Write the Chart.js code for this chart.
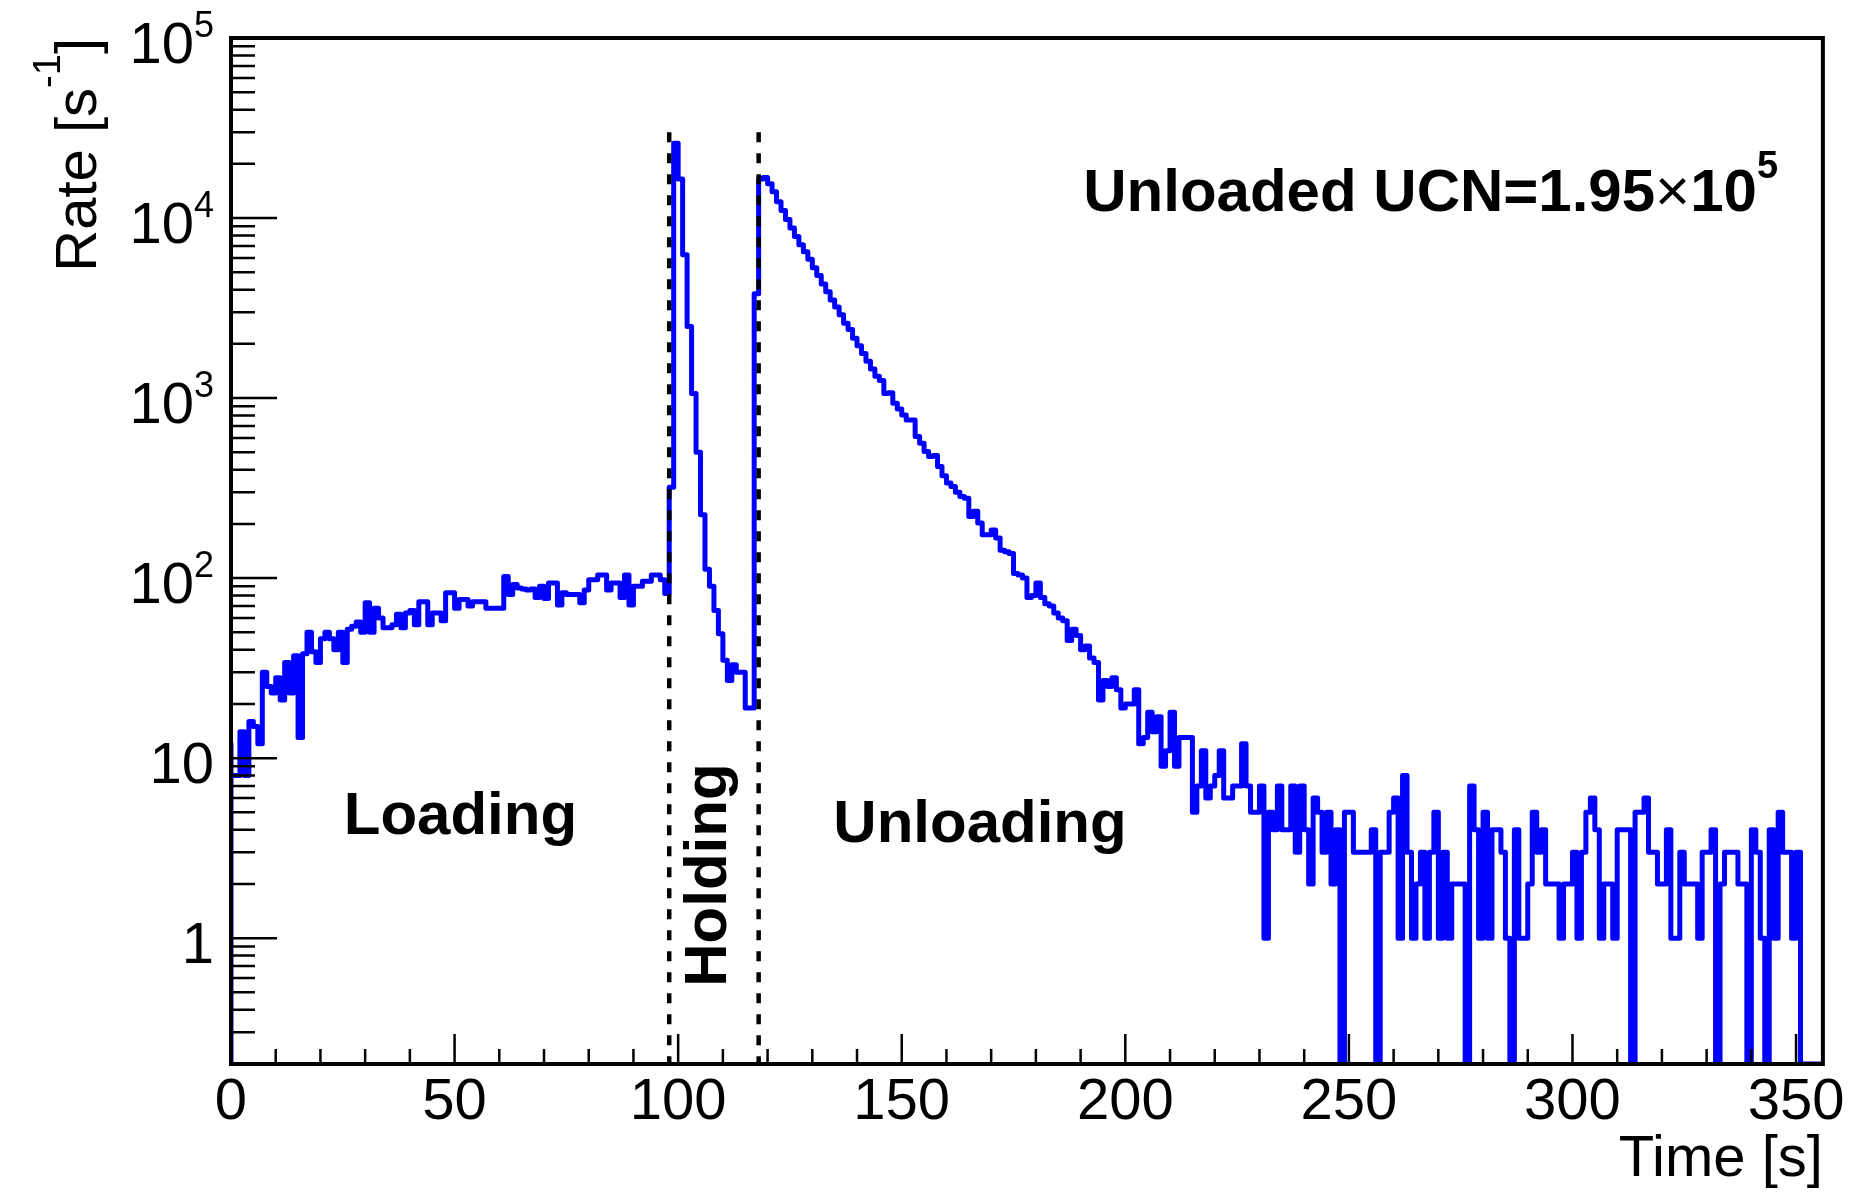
<!DOCTYPE html>
<html lang="en">
<head>
<meta charset="UTF-8">
<title>UCN rate - loading, holding, unloading</title>
<script src="https://cdn.jsdelivr.net/npm/chart.js"></script>
<style>
    html, body {
        margin: 0;
        padding: 0;
        background: #fff;
    }
    #wrap {
        width: 1859px;
        height: 1192px;
    }
</style>
</head>
<body>
<div id="wrap"><canvas id="rateChart" width="1859" height="1192"></canvas></div>

<script>
// histogram: 1 s bins, bin i covers [i, i+1) seconds
const binWidth = 1;
const rate = [
    // 0 - 49  loading
    12, 8, 8, 14, 8, 16, 15, 12, 30, 25,
    23, 28, 21, 34, 23, 37, 13, 38, 50, 39,
    34, 46, 50, 46, 40, 50, 34, 52, 54, 57,
    50, 73, 50, 68, 60, 53, 53, 55, 63, 53,
    64, 66, 55, 74, 74, 55, 64, 64, 58, 83,
    // 50 - 98
    83, 68, 76, 76, 70, 74, 74, 74, 68, 68,
    68, 68, 102, 81, 92, 88, 87, 86, 87, 78,
    90, 77, 94, 94, 71, 83, 81, 81, 81, 73,
    86, 98, 98, 104, 104, 86, 94, 94, 78, 104,
    71, 90, 90, 96, 96, 104, 104, 98, 82,
    // 99 - 117  holding
    320, 26000, 16500, 6250, 2500, 1060, 500, 225, 112, 90,
    66, 49, 35, 27, 33, 30, 30, 19, 19,
    // 118 - 178  unloading
    3800, 16500, 16800, 15500, 14000, 12300, 11000, 9800, 8800, 7900,
    7100, 6500, 5900, 5300, 4800, 4300, 3900, 3500, 3200, 2900,
    2600, 2400, 2150, 1950, 1770, 1600, 1450, 1320, 1250, 1060,
    1070, 935, 870, 806, 756, 756, 611, 561, 505, 473,
    480, 417, 370, 337, 323, 300, 284, 278, 220, 235,
    202, 174, 174, 185, 167, 143, 140, 137, 106, 104,
    100,
    // 179 - 249
    78, 80, 94, 78, 72, 70, 64, 60, 58, 45,
    52, 48, 40, 42, 36, 34, 21, 27, 25, 28,
    24, 19, 20, 20, 24, 12, 13, 18, 14, 17,
    9, 11, 18, 9, 13, 13, 13, 5, 7, 11,
    6, 7, 8, 11, 6, 6, 7, 7, 12, 7,
    5, 5, 7, 1, 5, 4, 7, 4, 4, 7,
    3, 7, 4, 2, 6, 5, 3, 5, 2, 4,
    0,
    // 250 - 355
    5, 5, 3, 3, 3, 3, 4, 0, 3, 3,
    5, 6, 1, 8, 3, 1, 2, 3, 1, 3,
    5, 1, 3, 1, 2, 2, 2, 0, 7, 4,
    1, 5, 1, 4, 4, 3, 1, 0, 4, 1,
    1, 2, 5, 3, 4, 2, 2, 2, 1, 2,
    2, 3, 1, 3, 5, 6, 4, 1, 2, 2,
    1, 4, 4, 4, 0, 5, 5, 6, 3, 3,
    2, 2, 4, 1, 1, 3, 2, 2, 2, 1,
    3, 3, 4, 0, 2, 3, 3, 3, 2, 2,
    0, 4, 3, 1, 0, 4, 1, 5, 3, 3,
    1, 3, 0, 0, 0, 0
];

const xTicks = [0, 50, 100, 150, 200, 250, 300, 350];
const yTicks = [1, 10, 100, 1000, 10000, 100000];
const xRange = [0, 356];
const yRange = [0.2, 1e5];

// start of holding and start of unloading
const phaseEdges = [98, 118];
const phaseLineTop = 3e4;
const phaseNames = ['Loading', 'Holding', 'Unloading'];
const unloadedText = ['Unloaded UCN=1.95', '\u00d7', '10', '5'];

const FONT = '"Liberation Sans", Arial, Helvetica, sans-serif';
Chart.defaults.font.family = FONT;
Chart.defaults.color = '#000';

// ROOT style histogram: empty bins sit on the bottom edge
const histPoints = [{ x: xRange[0], y: yRange[0] }];
rate.forEach((v, i) => {
    histPoints.push({ x: i * binWidth, y: Math.max(v, yRange[0]) });
});
histPoints.push({ x: rate.length * binWidth, y: Math.max(rate[rate.length - 1], yRange[0]) });

const phaseSets = phaseEdges.map(t => ({
    data: [{ x: t, y: phaseLineTop }, { x: t, y: yRange[0] }],
    borderColor: '#000',
    borderWidth: 4.5,
    borderDash: [10, 11],
    pointRadius: 0,
    order: 1
}));

// draws text pieces one after another, [text, font, raise]
function drawRich(ctx, parts, x, y, align) {
    let total = 0;
    const widths = parts.map(p => {
        ctx.font = p[1];
        const w = ctx.measureText(p[0]).width;
        total += w;
        return w;
    });
    let cx = align === 'right' ? x - total : align === 'center' ? x - total / 2 : x;
    ctx.textAlign = 'left';
    ctx.textBaseline = 'alphabetic';
    parts.forEach((p, i) => {
        ctx.font = p[1];
        ctx.fillText(p[0], cx, y - (p[2] || 0));
        cx += widths[i];
    });
}

const rootFrame = {
    id: 'rootFrame',
    afterDatasetsDraw(chart) {
        const { ctx, chartArea: a, scales: { x, y } } = chart;
        const big = '58px ' + FONT;
        const bold = 'bold 60px ' + FONT;
        ctx.save();
        ctx.fillStyle = '#000';
        ctx.strokeStyle = '#000';

        // inward tick marks
        ctx.lineWidth = 2.5;
        ctx.beginPath();
        for (let e = -1; e <= 4; e++) {
            for (let k = 1; k <= 9; k++) {
                const v = k * Math.pow(10, e);
                if (v < yRange[0] - 1e-9 || v > yRange[1]) continue;
                const py = y.getPixelForValue(v);
                ctx.moveTo(a.left, py);
                ctx.lineTo(a.left + (k === 1 ? 46 : 24), py);
            }
        }
        for (let t = xRange[0]; t <= xRange[1]; t += 10) {
            const px = x.getPixelForValue(t);
            ctx.moveTo(px, a.bottom);
            ctx.lineTo(px, a.bottom - (t % 50 === 0 ? 30 : 15));
        }
        ctx.stroke();

        ctx.lineWidth = 4;
        ctx.strokeRect(a.left, a.top, a.right - a.left, a.bottom - a.top);

        // y tick labels 1, 10, 10^2 ...
        yTicks.forEach(v => {
            const e = Math.round(Math.log10(v));
            const py = y.getPixelForValue(v);
            let parts;
            if (e === 0) parts = [['1', big]];
            else if (e === 1) parts = [['10', big]];
            else parts = [['10', big], [String(e), '36px ' + FONT, 26]];
            drawRich(ctx, parts, a.left - 17, py + 25, 'right');
        });

        // y title, rotated
        ctx.save();
        ctx.translate(a.left - 135, a.top);
        ctx.rotate(-Math.PI / 2);
        drawRich(ctx, [['Rate [s', big], ['-1', '38px ' + FONT, 36], [']', big]], 0, 0, 'right');
        ctx.restore();

        // phase names
        ctx.font = bold;
        ctx.textAlign = 'center';
        ctx.textBaseline = 'alphabetic';
        ctx.fillText(phaseNames[0], x.getPixelForValue(51.3), y.getPixelForValue(3.8));
        ctx.fillText(phaseNames[2], x.getPixelForValue(167.5), y.getPixelForValue(3.4));
        ctx.save();
        ctx.translate(x.getPixelForValue(110.8), y.getPixelForValue(2.24));
        ctx.rotate(-Math.PI / 2);
        ctx.textBaseline = 'alphabetic';
        ctx.fillText(phaseNames[1], 0, 0);
        ctx.restore();

        drawRich(ctx, [
            [unloadedText[0], bold],
            [unloadedText[1], '60px ' + FONT],
            [unloadedText[2], bold],
            [unloadedText[3], 'bold 38px ' + FONT, 33]
        ], x.getPixelForValue(190.6), y.getPixelForValue(1.09e4), 'left');

        ctx.restore();
    }
};

new Chart(document.getElementById('rateChart'), {
    type: 'line',
    data: {
        datasets: [
            ...phaseSets,
            {
                label: 'Rate',
                data: histPoints,
                stepped: 'after',
                borderColor: '#0000ff',
                borderWidth: 5,
                borderJoinStyle: 'round',
                borderCapStyle: 'round',
                pointRadius: 0,
                fill: false,
                order: 2
            }
        ]
    },
    options: {
        responsive: false,
        animation: false,
        devicePixelRatio: 1,
        layout: {
            padding: { left: 231, right: 33, top: 38, bottom: 0 }
        },
        plugins: {
            legend: { display: false },
            tooltip: { enabled: false }
        },
        scales: {
            x: {
                type: 'linear',
                min: xRange[0],
                max: xRange[1],
                afterBuildTicks: s => { s.ticks = xTicks.map(v => ({ value: v })); },
                // keep the frame bottom where the original has it
                afterFit: s => { s.height = 128; },
                grid: { display: false, drawTicks: false },
                border: { display: false },
                ticks: {
                    font: { size: 58, lineHeight: 0.877 },
                    color: '#000',
                    padding: 14,
                    maxRotation: 0,
                    autoSkip: false
                },
                title: {
                    display: true,
                    text: 'Time [s]',
                    align: 'end',
                    color: '#000',
                    font: { size: 58, lineHeight: 1.1 },
                    padding: 0
                }
            },
            y: {
                type: 'logarithmic',
                min: yRange[0],
                max: yRange[1],
                display: false
            }
        }
    },
    plugins: [rootFrame]
});
</script>
</body>
</html>
